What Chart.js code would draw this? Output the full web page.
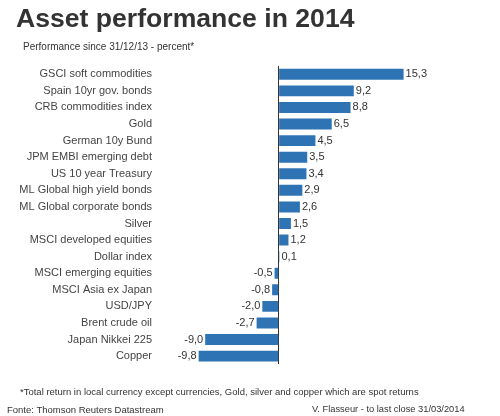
<!DOCTYPE html>
<html>
<head>
<meta charset="utf-8">
<script src="https://cdn.jsdelivr.net/npm/chart.js@4/dist/chart.umd.min.js"></script>
<style>
  body { margin: 0; background: #fff; font-family: "Liberation Sans", Arial, sans-serif; color: #333; }
  #wrap { position: relative; width: 500px; height: 416px; overflow: hidden; }
  #chart { position: absolute; left: 0; top: 0; }
  .txt { position: absolute; white-space: nowrap; }
  #title { left: 16px; top: 3px; font-size: 26.6px; font-weight: bold; color: #333; }
  #sub { left: 23px; top: 41px; font-size: 10px; color: #333; }
  #note { left: 20px; top: 386px; font-size: 9.5px; color: #333; }
  #src { left: 7px; top: 404px; font-size: 9.5px; color: #333; }
  #auth { left: 312px; top: 404px; font-size: 9.3px; color: #333; }
</style>
</head>
<body>
<div id="wrap">
  <canvas id="chart" width="500" height="416"></canvas>
  <div class="txt" id="title">Asset performance in 2014</div>
  <div class="txt" id="sub">Performance since 31/12/13 - percent*</div>
  <div class="txt" id="note">*Total return in local currency except currencies, Gold, silver and copper which are spot returns</div>
  <div class="txt" id="src">Fonte: Thomson Reuters Datastream</div>
  <div class="txt" id="auth">V. Flasseur - to last close 31/03/2014</div>
</div>
<script>
// --- data ---
const assets = [
  'GSCI soft commodities', 'Spain 10yr gov. bonds', 'CRB commodities index', 'Gold',
  'German 10y Bund', 'JPM EMBI emerging debt', 'US 10 year Treasury',
  'ML Global high yield bonds', 'ML Global corporate bonds', 'Silver',
  'MSCI developed equities', 'Dollar index', 'MSCI emerging equities',
  'MSCI Asia ex Japan', 'USD/JPY', 'Brent crude oil', 'Japan Nikkei 225', 'Copper'
];
const performance = [15.3, 9.2, 8.8, 6.5, 4.5, 3.5, 3.4, 2.9, 2.6, 1.5, 1.2, 0.1,
  -0.5, -0.8, -2.0, -2.7, -9.0, -9.8];

const barBlue = '#2e74b5';
const textColor = '#333';

// value labels next to each bar, comma decimals
const valueLabels = {
  id: 'valueLabels',
  afterDatasetsDraw(chart) {
    const ctx = chart.ctx;
    const meta = chart.getDatasetMeta(0);
    ctx.save();
    ctx.font = '11px "Liberation Sans", Arial, sans-serif';
    ctx.fillStyle = textColor;
    ctx.textBaseline = 'middle';
    meta.data.forEach((bar, i) => {
      const v = performance[i];
      const txt = v.toFixed(1).replace('.', ',');
      if (v >= 0) {
        ctx.textAlign = 'left';
        ctx.fillText(txt, bar.x + 2, bar.y);
      } else {
        ctx.textAlign = 'right';
        ctx.fillText(txt, bar.x - 2, bar.y);
      }
    });
    ctx.restore();
  }
};

new Chart(document.getElementById('chart'), {
  type: 'bar',
  data: {
    labels: assets,
    datasets: [{
      data: performance,
      backgroundColor: barBlue,
      borderWidth: 0,
      categoryPercentage: 1,
      barPercentage: 0.66
    }]
  },
  plugins: [valueLabels],
  options: {
    indexAxis: 'y',
    responsive: false,
    animation: false,
    layout: { padding: { top: 66, bottom: 44, left: 0, right: 58 } },
    plugins: { legend: { display: false }, tooltip: { enabled: false } },
    scales: {
      x: {
        min: -10,
        max: 20,
        ticks: { display: false, stepSize: 10 },
        border: { display: false },
        grid: {
          drawTicks: false,
          lineWidth: 1,
          color: (c) => (c.tick && c.tick.value === 0 ? '#333' : 'rgba(0,0,0,0)')
        }
      },
      y: {
        afterFit: (scale) => { scale.width = 197; },
        border: { display: false },
        grid: { display: false, drawTicks: false },
        ticks: {
          padding: 45,
          color: '#444',
          font: { family: '"Liberation Sans", Arial, sans-serif', size: 11 }
        }
      }
    }
  }
});
</script>
</body>
</html>
